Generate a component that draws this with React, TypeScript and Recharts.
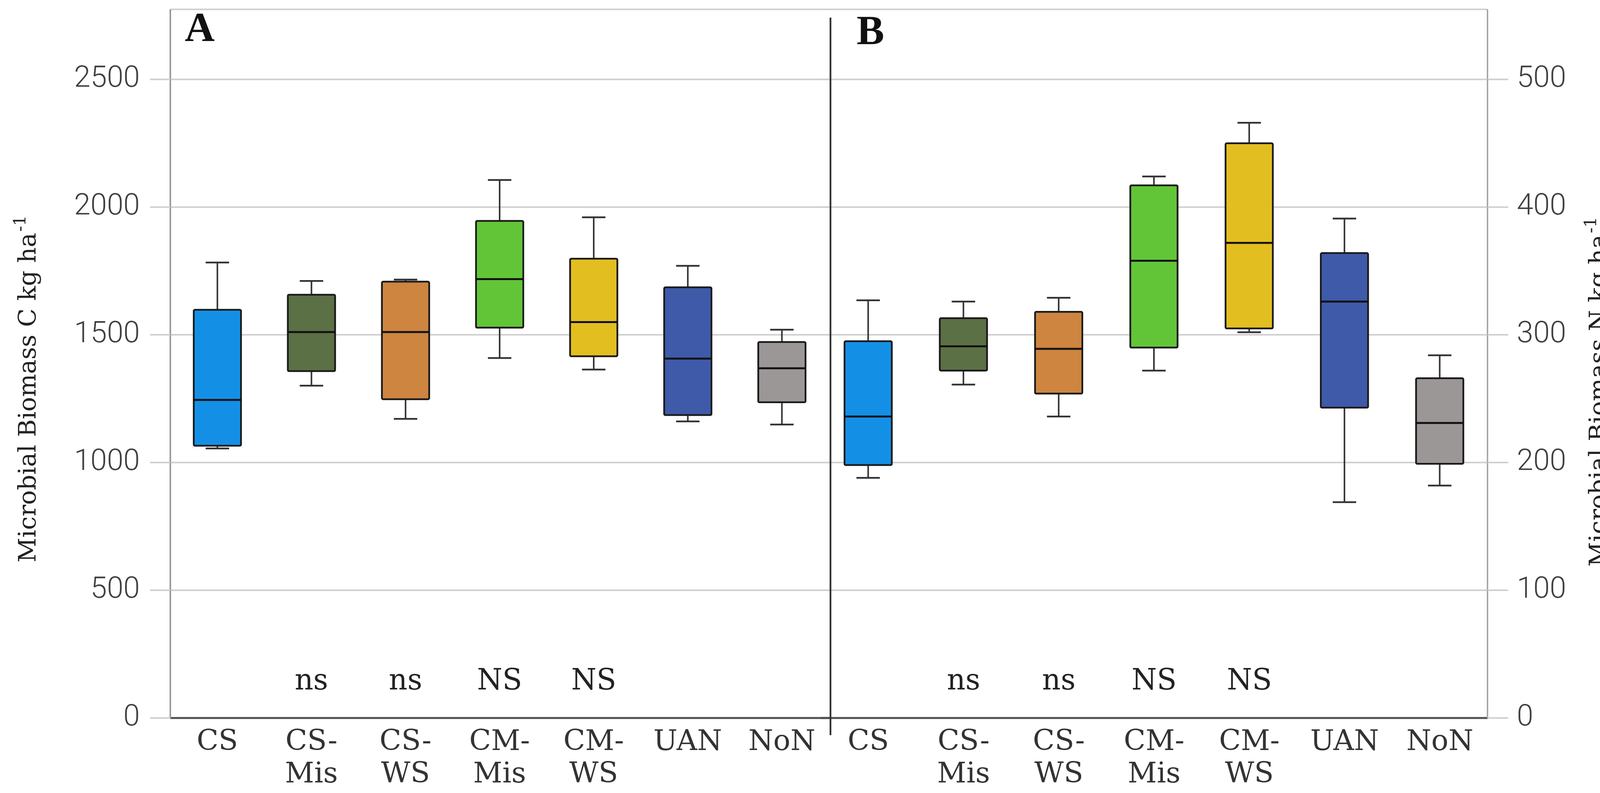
import React from "react";
import { ComposedChart, Bar, XAxis, YAxis, CartesianGrid, Label } from "recharts";

const W = 4164;
const H = 2030;

// treatments, shared by both panels
const categories = ["CS", "CS-Mis", "CS-WS", "CM-Mis", "CM-WS", "UAN", "NoN"];
const fills = ["#1390e6", "#5c7045", "#cd8540", "#62c537", "#e3be20", "#3f5aa9", "#9b9796"];
const sigLabels = ["", "ns", "ns", "NS", "NS", "", ""];

// panel A: microbial biomass C (kg/ha)
const cMin = [1055, 1301, 1171, 1409, 1364, 1161, 1149];
const cQ1 = [1066, 1358, 1248, 1528, 1416, 1186, 1236];
const cMed = [1245, 1511, 1511, 1718, 1550, 1407, 1369];
const cQ3 = [1598, 1657, 1708, 1946, 1798, 1686, 1472];
const cMax = [1783, 1711, 1716, 2106, 1960, 1770, 1520];

// panel B: microbial biomass N (kg/ha)
const nMin = [188, 261, 236, 272, 302, 169, 182];
const nQ1 = [198, 272, 254, 290, 305, 243, 199];
const nMed = [236, 291, 289, 358, 372, 326, 231];
const nQ3 = [295, 313, 318, 417, 450, 364, 266];
const nMax = [327, 326, 329, 424, 466, 391, 284];

const cTicks = [0, 500, 1000, 1500, 2000, 2500];
const nTicks = [0, 100, 200, 300, 400, 500];

const rows = (mins: number[], q1s: number[], meds: number[], q3s: number[], maxs: number[]) =>
  categories.map((name, i) => ({
    name,
    fill: fills[i],
    min: mins[i],
    q1: q1s[i],
    med: meds[i],
    q3: q3s[i],
    max: maxs[i],
  }));

const dataC = rows(cMin, cQ1, cMed, cQ3, cMax);
const dataN = rows(nMin, nQ1, nMed, nQ3, nMax);

const serif = "'DejaVu Serif', serif";
const sans = "Roboto, 'Open Sans', sans-serif";

// box drawn from the [q1, q3] range bar; whiskers and median use the same pixel scale
const BoxShape = (props: any) => {
  const { x, y, width, height, payload } = props;
  if (!payload) return null;
  const top = Math.min(y, y + height);
  const bottom = Math.max(y, y + height);
  const k = (bottom - top) / (payload.q3 - payload.q1);
  const py = (v: number) => bottom - (v - payload.q1) * k;
  const cx = x + width / 2;
  const cap = 60;
  const yMax = py(payload.max);
  const yMin = py(payload.min);
  const yMed = py(payload.med);
  return (
    <g>
      <line x1={cx} x2={cx} y1={yMax} y2={top} stroke="#333" strokeWidth={4} />
      <line x1={cx - cap / 2} x2={cx + cap / 2} y1={yMax} y2={yMax} stroke="#333" strokeWidth={4.5} />
      <line x1={cx} x2={cx} y1={bottom} y2={yMin} stroke="#333" strokeWidth={4} />
      <line x1={cx - cap / 2} x2={cx + cap / 2} y1={yMin} y2={yMin} stroke="#333" strokeWidth={4.5} />
      <rect x={x} y={top} width={width} height={bottom - top} rx={3} fill={payload.fill} stroke="#1a1a1a" strokeWidth={4.5} />
      <line x1={x} x2={x + width} y1={yMed} y2={yMed} stroke="#111" strokeWidth={5} />
    </g>
  );
};

const CategoryTick = (props: any) => {
  const { x, y, payload } = props;
  const name: string = payload.value;
  const idx = categories.indexOf(name);
  const sig = sigLabels[idx];
  const parts = name.includes("-") ? [name.split("-")[0] + "-", name.split("-")[1]] : [name];
  return (
    <g>
      {sig ? (
        <text x={x} y={y - 73} textAnchor="middle" fontFamily={serif} fontSize={74} fill="#222">
          {sig}
        </text>
      ) : null}
      {parts.map((p, i) => (
        <text key={i} x={x} y={y + 82 + i * 83} textAnchor="middle" fontFamily={serif} fontSize={73} fill="#333">
          {p}
        </text>
      ))}
    </g>
  );
};

const ValueTick = (props: any) => {
  const { x, y, payload, textAnchor } = props;
  return (
    <text x={x} y={y} dy={19} textAnchor={textAnchor} fontFamily={sans} fontWeight={300} fontSize={76} fill="#404040">
      {payload.value}
    </text>
  );
};

// rotated axis title; the "-1" exponent is its own text placed past the end of the main line
const axisTitle = (text: string, bx: number, endY: number) => () => (
  <g>
    <text
      x={bx}
      y={endY}
      transform={`rotate(-90, ${bx}, ${endY})`}
      textAnchor="end"
      fontFamily={serif}
      fontSize={62}
      fill="#222"
    >
      {text}
    </text>
    <text
      x={bx - 26}
      y={endY - 3}
      transform={`rotate(-90, ${bx - 26}, ${endY - 3})`}
      textAnchor="start"
      fontFamily={serif}
      fontSize={43}
      fill="#222"
    >
      -1
    </text>
  </g>
);

const gridStyle = { stroke: "#d0d0d0", strokeWidth: 4 };

export default function App() {
  return (
    <div style={{ position: "absolute", left: 0, top: 0, width: W, height: H, background: "#fff" }}>
      <div style={{ position: "absolute", left: 0, top: 0 }}>
        <ComposedChart width={W} height={H} data={dataC} margin={{ top: 24, right: 2042, bottom: 42, left: 0 }}>
          <CartesianGrid vertical={false} {...gridStyle} />
          <XAxis
            dataKey="name"
            interval={0}
            height={150}
            tickSize={0}
            tickMargin={0}
            tickLine={false}
            axisLine={{ stroke: "#4f4f4f", strokeWidth: 5 }}
            tick={<CategoryTick />}
          />
          <YAxis
            width={436}
            domain={[0, 2774]}
            ticks={cTicks}
            tickSize={52}
            tickMargin={26}
            axisLine={{ stroke: "#999", strokeWidth: 4 }}
            tickLine={{ stroke: "#cfcfcf", strokeWidth: 4 }}
            tick={<ValueTick />}
          >
            <Label content={axisTitle("Microbial Biomass C kg ha", 91, 596)} />
          </YAxis>
          <Bar dataKey={(d: any) => [d.q1, d.q3]} barSize={121} shape={<BoxShape />} isAnimationActive={false} />
        </ComposedChart>
      </div>
      <div style={{ position: "absolute", left: 0, top: 0 }}>
        <ComposedChart width={W} height={H} data={dataN} margin={{ top: 24, right: 0, bottom: 42, left: 2101 }}>
          <CartesianGrid vertical={false} {...gridStyle} />
          <XAxis
            dataKey="name"
            interval={0}
            height={150}
            tickSize={0}
            tickMargin={0}
            tickLine={false}
            axisLine={{ stroke: "#4f4f4f", strokeWidth: 5 }}
            tick={<CategoryTick />}
          />
          <YAxis
            orientation="right"
            width={356}
            domain={[0, 554.8]}
            ticks={nTicks}
            tickSize={53}
            tickMargin={22}
            axisLine={{ stroke: "#a0a0a0", strokeWidth: 3.5 }}
            tickLine={{ stroke: "#cfcfcf", strokeWidth: 4 }}
            tick={<ValueTick />}
          >
            <Label content={axisTitle("Microbial Biomass N kg ha", 4112, 600)} />
          </YAxis>
          <Bar dataKey={(d: any) => [d.q1, d.q3]} barSize={121} shape={<BoxShape />} isAnimationActive={false} />
        </ComposedChart>
      </div>
      <svg width={W} height={H} style={{ position: "absolute", left: 0, top: 0, pointerEvents: "none" }}>
        <line x1={2126} x2={2126} y1={45} y2={1882} stroke="#333" strokeWidth={4.5} />
        <text x={473} y={105} fontFamily="'Liberation Serif', serif" fontWeight="bold" fontSize={106} fill="#111">
          A
        </text>
        <text x={2193} y={113} fontFamily="'Liberation Serif', serif" fontWeight="bold" fontSize={106} fill="#111">
          B
        </text>
      </svg>
    </div>
  );
}
